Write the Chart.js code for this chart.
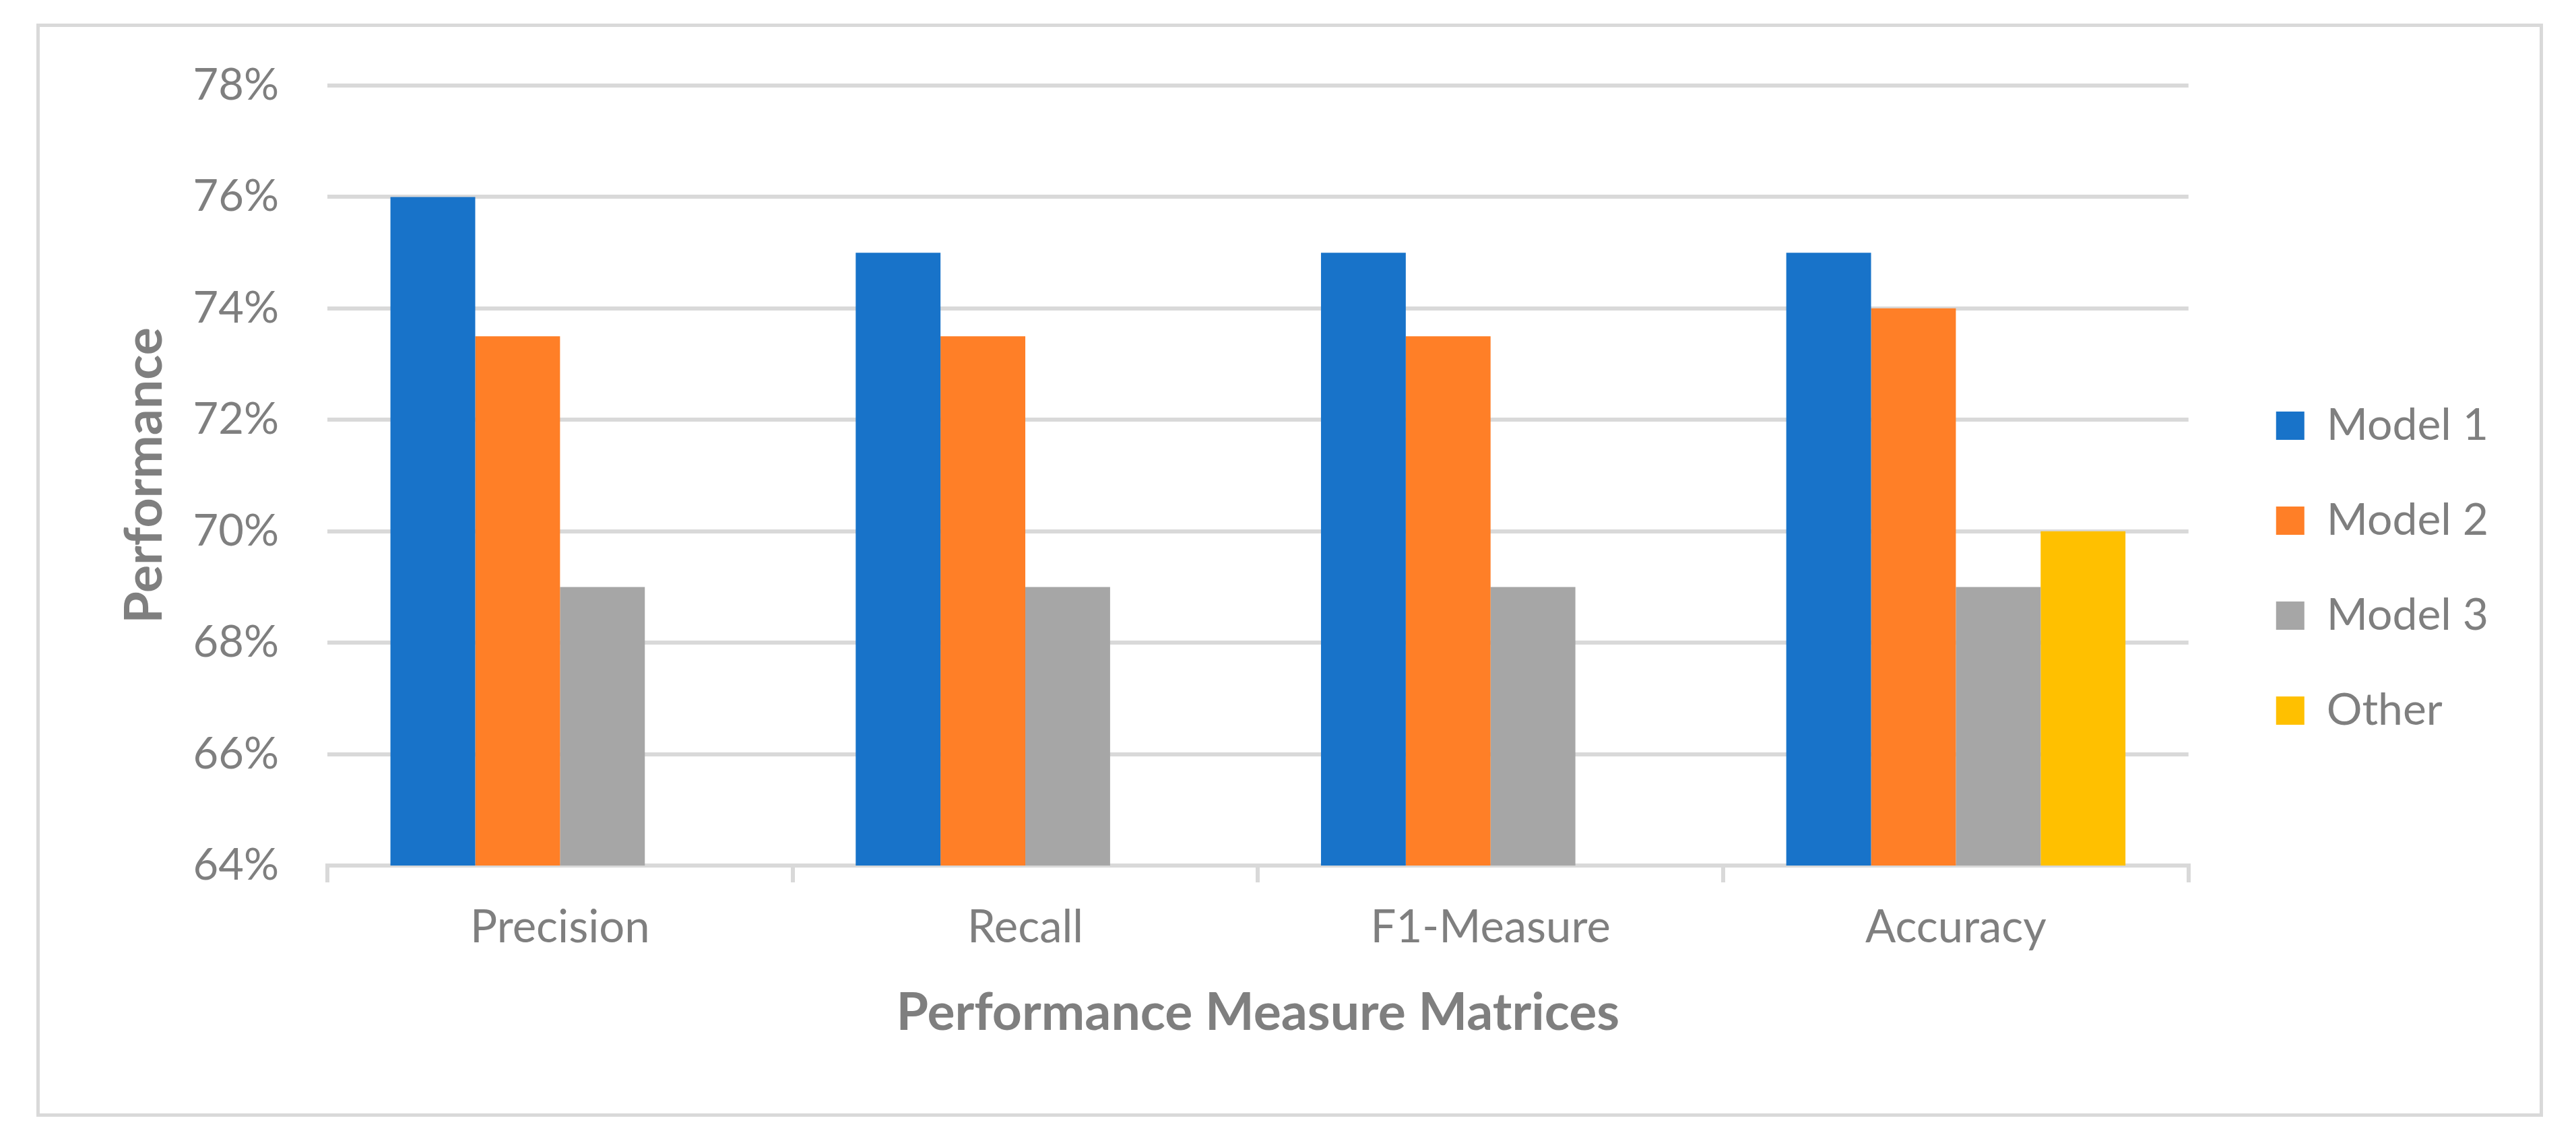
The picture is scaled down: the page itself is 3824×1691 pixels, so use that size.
<!DOCTYPE html>
<html>
<head>
<meta charset="utf-8">
<title>Performance Measure Matrices</title>
<script src="https://cdn.jsdelivr.net/npm/chart.js@4.4.1/dist/chart.umd.min.js"></script>
<style>
    html, body { margin: 0; padding: 0; background: #fff; }
    #wrap { width: 3824px; height: 1691px; position: relative; }
</style>
</head>
<body>
<div id="wrap"><canvas id="perfChart"></canvas></div>
<script>
// data (percent)
var categories = ['Precision', 'Recall', 'F1-Measure', 'Accuracy'];
var model1 = [76, 75, 75, 75];
var model2 = [73.5, 73.5, 73.5, 74];
var model3 = [69, 69, 69, 69];
var other = [null, null, null, 70];
var seriesNames = ['Model 1', 'Model 2', 'Model 3', 'Other'];
var seriesColors = ['#1873c9', '#ff7f27', '#a6a6a6', '#ffc000'];

var grey = '#7f7f7f';
var lineGrey = '#d9d9d9';

Chart.defaults.font.family = 'Lato, "Open Sans", sans-serif';
Chart.defaults.color = grey;

// outer frame round the whole chart
var framePlugin = {
    id: 'frame',
    beforeDraw: function(chart) {
        var ctx = chart.ctx;
        ctx.save();
        ctx.fillStyle = '#fff';
        ctx.fillRect(0, 0, chart.width, chart.height);
        ctx.strokeStyle = lineGrey;
        ctx.lineWidth = 5;
        ctx.strokeRect(56.5, 37.5, 3716, 1618);
        ctx.restore();
    }
};

// push legend a bit further right of the plot
var legendShift = {
    id: 'legendShift',
    afterLayout: function(chart) {
        chart.legend.left += 55;
        chart.legend.right += 55;
    }
};

var ctx = document.getElementById('perfChart').getContext('2d');
var perfChart = new Chart(ctx, {
    type: 'bar',
    data: {
        labels: categories,
        datasets: [model1, model2, model3, other].map(function(vals, i) {
            return {
                label: seriesNames[i],
                data: vals,
                backgroundColor: seriesColors[i],
                borderWidth: 0,
                categoryPercentage: 0.729,
                barPercentage: 1
            };
        })
    },
    options: {
        responsive: true,
        maintainAspectRatio: false,
        animation: false,
        layout: {
            padding: { left: 150, top: 127, right: 175, bottom: 131 }
        },
        plugins: {
            tooltip: { enabled: false },
            legend: {
                position: 'right',
                labels: {
                    boxWidth: 42,
                    boxHeight: 42,
                    padding: 75,
                    color: grey,
                    font: { size: 66 }
                }
            }
        },
        scales: {
            x: {
                afterFit: function(scale) { scale.height = 275; },
                grid: {
                    offset: true,
                    drawOnChartArea: false,
                    drawTicks: true,
                    tickLength: 25,
                    color: lineGrey,
                    lineWidth: 6
                },
                border: { color: lineGrey, width: 6 },
                ticks: {
                    padding: 27,
                    color: grey,
                    font: { size: 67 }
                },
                title: {
                    display: true,
                    text: 'Performance Measure Matrices',
                    color: grey,
                    padding: { top: 0, bottom: 10 },
                    font: { size: 77, weight: 'bold' }
                }
            },
            y: {
                min: 64,
                max: 78,
                afterFit: function(scale) { scale.width = 336; },
                grid: {
                    color: lineGrey,
                    lineWidth: 6,
                    drawTicks: false
                },
                border: { display: false },
                ticks: {
                    stepSize: 2,
                    padding: 72,
                    color: grey,
                    font: { size: 65 },
                    callback: function(v) { return v + '%'; }
                },
                title: {
                    display: true,
                    text: 'Performance',
                    color: grey,
                    padding: { top: 19, bottom: 0 },
                    font: { size: 77, weight: 'bold' }
                }
            }
        }
    },
    plugins: [framePlugin, legendShift]
});
</script>
</body>
</html>
